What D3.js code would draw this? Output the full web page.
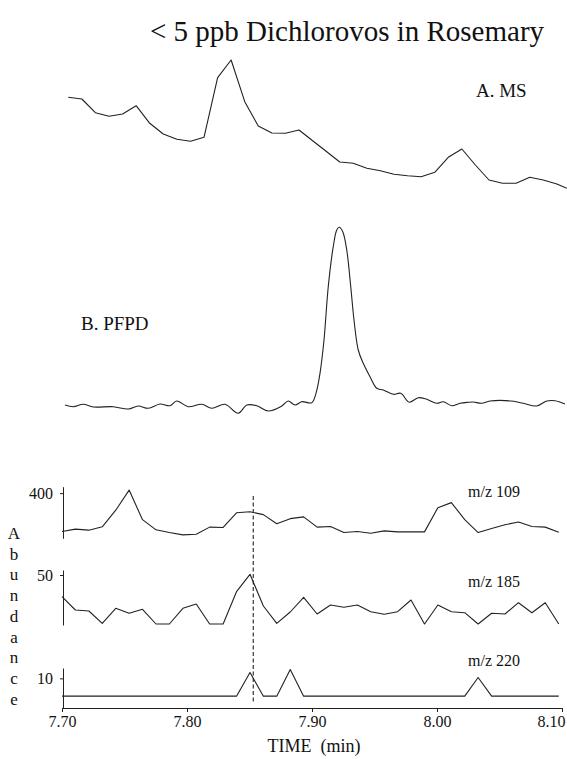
<!DOCTYPE html>
<html>
<head>
<meta charset="utf-8">
<script src="https://cdn.jsdelivr.net/npm/d3@7"></script>
<style>
  html, body { margin: 0; padding: 0; background: #fff; }
  svg { display: block; }
</style>
</head>
<body>
<svg id="chart" width="567" height="759"></svg>
<script>
// ---------- DATA ----------
const title = "< 5 ppb Dichlorovos in Rosemary";

// Panel A: MS (TIC) scans
const msTimes = [7.7050, 7.7159, 7.7267, 7.7376, 7.7485, 7.7593, 7.7702, 7.7810, 7.7919, 7.8028,
  7.8136, 7.8245, 7.8353, 7.8462, 7.8570, 7.8679, 7.8787, 7.8896, 7.9005, 7.9113,
  7.9222, 7.9330, 7.9439, 7.9547, 7.9656, 7.9764, 7.9873, 7.9982, 8.0090, 8.0199,
  8.0307, 8.0416, 8.0524, 8.0633, 8.0742, 8.0850, 8.0959, 8.1038];
const msValues = [102.7, 101, 87.3, 83.7, 86, 94.3, 76.7, 66, 60.7, 58.7,
  62.7, 122.3, 140, 98.3, 74, 67, 66.7, 70, 59.3, 48.7,
  38, 36.7, 31.7, 29.3, 25.7, 24.3, 23.3, 27.7, 42.7, 51,
  35, 20, 16.7, 16.7, 22.7, 20, 16, 11.7];

// Panel B: PFPD trace
const pfpdTimes = [7.7024, 7.7090, 7.7170, 7.7250, 7.7410, 7.7530, 7.7610, 7.7690, 7.7784, 7.7864,
  7.7918, 7.8010, 7.8118, 7.8198, 7.8304, 7.8410, 7.8478, 7.8558, 7.8650, 7.8758,
  7.8810, 7.8864, 7.8918, 7.8998, 7.9032, 7.9064, 7.9096, 7.9130, 7.9170, 7.9198,
  7.9218, 7.9246, 7.9278, 7.9310, 7.9336, 7.9370, 7.9410, 7.9464, 7.9518, 7.9570,
  7.9650, 7.9710, 7.9778, 7.9850, 7.9918, 7.9998, 8.0050, 8.0118, 8.0184, 8.0250,
  8.0290, 8.0358, 8.0424, 8.0598, 8.0690, 8.0798, 8.0878, 8.0944, 8.1024];
const pfpdValues = [5, 3.3, 5.7, 3, 3.3, 1, 4, 1.7, 6, 4.3,
  9, 3.3, 5.7, 1.7, 5.7, -3.3, 5, 4.3, -1, 4,
  9, 5, 8.3, 7.3, 16.7, 36.7, 70, 123.3, 163.3, 180,
  182.7, 178.3, 160, 123.3, 90, 60, 46.7, 33.3, 21.7, 20,
  15.7, 16.7, 7.7, 12.3, 10.7, 6.7, 8.3, 4.3, 6.7, 7.7,
  8, 6.7, 9, 9, 6.7, 4, 9, 9.3, 6];

// Extracted ion chromatograms (shared scan times)
const scanTimes = [7.7000, 7.7107, 7.7215, 7.7322, 7.7430, 7.7537, 7.7644, 7.7752, 7.7859, 7.7967,
  7.8074, 7.8181, 7.8289, 7.8396, 7.8504, 7.8611, 7.8718, 7.8826, 7.8933, 7.9041,
  7.9148, 7.9255, 7.9363, 7.9470, 7.9578, 7.9685, 7.9792, 7.9900, 8.0007, 8.0115,
  8.0222, 8.0329, 8.0437, 8.0544, 8.0652, 8.0759, 8.0866, 8.0974];
const mz109 = [60, 81, 72, 102, 249, 427, 165, 75, 51, 30,
  36, 99, 96, 226, 235, 210, 129, 174, 190, 99,
  105, 51, 60, 45, 66, 57, 57, 57, 271, 316,
  165, 51, 87, 120, 144, 105, 99, 54];
const mz185 = [28.3, 15, 14, 1.7, 16.7, 11.7, 15.7, 1, 1, 16.7,
  21, 1, 1, 33.3, 50.7, 19, 1.7, 13, 27.7, 11,
  20, 17.7, 20, 13.3, 10.7, 13.3, 25, 1, 20, 13.3,
  12.3, 1, 11.7, 11, 22.3, 12.3, 22.3, 1];
const mz220 = [4, 4, 4, 4, 4, 4, 4, 4, 4, 4,
  4, 4, 4, 4, 12, 4, 4, 13, 4, 4,
  4, 4, 4, 4, 4, 4, 4, 4, 4, 4,
  4, 10.3, 4, 4, 4, 4, 4, 4];

const xTicks = [7.70, 7.80, 7.90, 8.00, 8.10];
const mzLabels = ["m/z 109", "m/z 185", "m/z 220"];
const mzTicks = [400, 50, 10];
const markerTime = 7.853;
const yLetters = ["A", "b", "u", "n", "d", "a", "n", "c", "e"];

// ---------- DRAW ----------
const FONT = "'Liberation Serif', 'Times New Roman', Times, serif";
const svg = d3.select("#chart");
const ink = "#222";

const x = d3.scaleLinear().domain([7.70, 8.10]).range([62, 562]);

function txt(xp, yp, size, s) {
  return svg.append("text").attr("x", xp).attr("y", yp)
    .attr("font-family", FONT).attr("font-size", size).attr("fill", "#111").text(s);
}

// Title
txt(347, 41, 29, title).attr("text-anchor", "middle");

// Panel A
const yA = d3.scaleLinear().domain([0, 140]).range([200, 60]);
const lineA = d3.line().x((d, i) => x(msTimes[i])).y(d => yA(d));
svg.append("path").attr("d", lineA(msValues)).attr("fill", "none")
  .attr("stroke", ink).attr("stroke-width", 1.1).attr("stroke-linejoin", "round");
txt(476, 96.5, 19, "A. MS");

// Panel B
const yB = d3.scaleLinear().domain([0, 200]).range([410, 210]);
const lineB = d3.line().x((d, i) => x(pfpdTimes[i])).y(d => yB(d)).curve(d3.curveCatmullRom.alpha(0.5));
svg.append("path").attr("d", lineB(pfpdValues)).attr("fill", "none")
  .attr("stroke", ink).attr("stroke-width", 1.1);
txt(81, 329.5, 19, "B. PFPD");

// Ion panels
const ionPanels = [
  { values: mz109, scale: d3.scaleLinear().domain([0, 457]).range([538.3, 486.7]), labelY: 497 },
  { values: mz185, scale: d3.scaleLinear().domain([0, 55]).range([625, 570]), labelY: 587 },
  { values: mz220, scale: d3.scaleLinear().domain([0, 13.5]).range([708, 668]), labelY: 666 }
];
ionPanels.forEach((p, k) => {
  const g = svg.append("g").attr("transform", "translate(63,0)");
  g.call(d3.axisLeft(p.scale).tickValues([mzTicks[k]]).tickSizeInner(3).tickSizeOuter(0).tickPadding(7));
  g.selectAll("path.domain").attr("stroke", ink);
  g.selectAll(".tick line").attr("stroke", ink);
  g.selectAll(".tick text").attr("font-size", 16).attr("font-family", FONT).attr("fill", "#111");
  const ln = d3.line().x((d, i) => x(scanTimes[i])).y(d => p.scale(d));
  svg.append("path").attr("d", ln(p.values)).attr("fill", "none")
    .attr("stroke", ink).attr("stroke-width", 1.1).attr("stroke-linejoin", "round");
  txt(468, p.labelY, 16, mzLabels[k]);
});

// Dashed marker line
svg.append("line").attr("x1", x(markerTime)).attr("x2", x(markerTime))
  .attr("y1", 496).attr("y2", 702).attr("stroke", ink).attr("stroke-width", 1.1)
  .attr("stroke-dasharray", "4,2.5");

// Bottom axis
const gx = svg.append("g").attr("transform", "translate(0,708)")
  .call(d3.axisBottom(x).tickValues(xTicks).tickFormat(d3.format(".2f")).tickSizeInner(4).tickSizeOuter(0).tickPadding(4));
gx.selectAll("path.domain").attr("stroke", ink);
gx.selectAll(".tick line").attr("stroke", ink);
gx.selectAll(".tick text").attr("font-size", 16).attr("font-family", FONT).attr("fill", "#111");
gx.selectAll(".tick text").filter(d => d === xTicks[xTicks.length - 1])
  .attr("text-anchor", "end").attr("x", 3);

txt(314, 752, 18, "TIME\u00A0\u00A0(min)").attr("text-anchor", "middle");

// Vertical "Abundance"
svg.selectAll("text.ylet").data(yLetters).enter().append("text")
  .attr("class", "ylet").attr("x", 14).attr("y", (d, i) => 539 + i * 20.7)
  .attr("font-family", FONT).attr("fill", "#111")
  .attr("text-anchor", "middle").attr("font-size", 17).text(d => d);
</script>
</body>
</html>
